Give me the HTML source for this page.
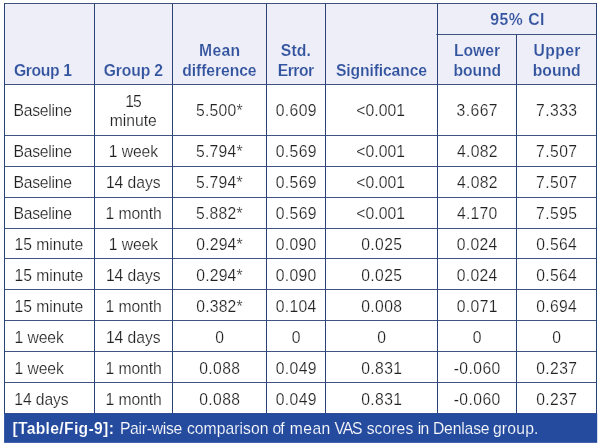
<!DOCTYPE html>
<html lang="en"><head><meta charset="utf-8"><title>Table/Fig-9</title>
<style>
html,body{margin:0;padding:0;background:#fff;}
body{width:601px;height:445px;position:relative;overflow:hidden;font-family:"Liberation Sans",Arial,Helvetica,sans-serif;}
svg{position:absolute;left:0;top:0;}
.t{position:absolute;white-space:pre;line-height:30px;height:30px;font-size:15.7px;color:#222;-webkit-text-stroke:0.2px #fff;}
.h{font-weight:bold;font-size:15.7px;color:#32539e;-webkit-text-stroke:0.15px #eeeef8;}
.ct{color:#fff;font-size:15.7px;-webkit-text-stroke:0.15px #254b9f;}
.b{font-weight:bold;}
</style></head><body>

<svg width="601" height="445" viewBox="0 0 601 445">
<rect x="4.5" y="3.5" width="592" height="81" fill="#eeeef8"/>
<g fill="#2b4275">
<rect x="4" y="3" width="1" height="411"/>
<rect x="94" y="3" width="1" height="411"/>
<rect x="172" y="3" width="1" height="411"/>
<rect x="266" y="3" width="1" height="411"/>
<rect x="325" y="3" width="1" height="411"/>
<rect x="437" y="3" width="1" height="411"/>
<rect x="516" y="34.5" width="1" height="379.5"/>
<rect x="596" y="3" width="1" height="411"/>
<g opacity="0.9">
<rect x="4" y="3" width="593" height="1"/>
<rect x="4" y="84" width="593" height="1"/>
<rect x="4" y="135" width="593" height="1"/>
<rect x="4" y="166" width="593" height="1"/>
<rect x="4" y="197" width="593" height="1"/>
<rect x="4" y="228" width="593" height="1"/>
<rect x="4" y="258" width="593" height="1"/>
<rect x="4" y="289" width="593" height="1"/>
<rect x="4" y="320" width="593" height="1"/>
<rect x="4" y="351" width="593" height="1"/>
<rect x="4" y="382" width="593" height="1"/>
<rect x="4" y="413" width="593" height="1"/>
<rect x="436.3" y="34" width="160.7" height="1"/>
</g>
</g>
<rect x="4.1" y="413.4" width="593.1" height="29.45" fill="#254b9f"/>
</svg>
<div class="t h" style="left:14.05px;top:56px;letter-spacing:-0.38px">Group 1</div>
<div class="t h" style="left:103.75px;top:56px;letter-spacing:-0.14px">Group 2</div>
<div class="t h" style="left:199.00px;top:36px;letter-spacing:0.33px">Mean</div>
<div class="t h" style="left:182.15px;top:56px;letter-spacing:-0.06px">difference</div>
<div class="t h" style="left:280.80px;top:36px;letter-spacing:0.17px">Std.</div>
<div class="t h" style="left:277.70px;top:56px;letter-spacing:-0.48px">Error</div>
<div class="t h" style="left:335.90px;top:56px;letter-spacing:-0.12px">Significance</div>
<div class="t h" style="left:453.90px;top:36px;letter-spacing:0.02px">Lower</div>
<div class="t h" style="left:453.60px;top:56px;letter-spacing:-0.09px">bound</div>
<div class="t h" style="left:533.50px;top:36px;letter-spacing:0.38px">Upper</div>
<div class="t h" style="left:532.80px;top:56px;letter-spacing:-0.01px">bound</div>
<div class="t h" style="left:490.20px;top:5px;letter-spacing:0.57px">95% CI</div>
<div class="t" style="left:13.55px;top:96px;letter-spacing:-0.25px">Baseline</div>
<div class="t" style="left:125.35px;top:87px;letter-spacing:-1.10px">15</div>
<div class="t" style="left:109.80px;top:106px;letter-spacing:-0.02px">minute</div>
<div class="t" style="left:196.05px;top:96px;letter-spacing:0.23px">5.500*</div>
<div class="t" style="left:275.75px;top:96px;letter-spacing:0.38px">0.609</div>
<div class="t" style="left:356.35px;top:96px;letter-spacing:0.04px">&lt;0.001</div>
<div class="t" style="left:456.50px;top:96px;letter-spacing:0.44px">3.667</div>
<div class="t" style="left:536.00px;top:96px;letter-spacing:0.44px">7.333</div>
<div class="t" style="left:13.55px;top:137px;letter-spacing:-0.25px">Baseline</div>
<div class="t" style="left:108.85px;top:137px;letter-spacing:-0.10px">1 week</div>
<div class="t" style="left:196.05px;top:137px;letter-spacing:0.23px">5.794*</div>
<div class="t" style="left:275.75px;top:137px;letter-spacing:0.38px">0.569</div>
<div class="t" style="left:356.35px;top:137px;letter-spacing:0.04px">&lt;0.001</div>
<div class="t" style="left:457.00px;top:137px;letter-spacing:0.31px">4.082</div>
<div class="t" style="left:536.00px;top:137px;letter-spacing:0.44px">7.507</div>
<div class="t" style="left:13.55px;top:168px;letter-spacing:-0.25px">Baseline</div>
<div class="t" style="left:105.95px;top:168px;letter-spacing:-0.06px">14 days</div>
<div class="t" style="left:196.05px;top:168px;letter-spacing:0.23px">5.794*</div>
<div class="t" style="left:275.75px;top:168px;letter-spacing:0.38px">0.569</div>
<div class="t" style="left:356.35px;top:168px;letter-spacing:0.04px">&lt;0.001</div>
<div class="t" style="left:457.00px;top:168px;letter-spacing:0.31px">4.082</div>
<div class="t" style="left:536.00px;top:168px;letter-spacing:0.44px">7.507</div>
<div class="t" style="left:13.55px;top:199px;letter-spacing:-0.25px">Baseline</div>
<div class="t" style="left:105.45px;top:199px;letter-spacing:-0.05px">1 month</div>
<div class="t" style="left:196.05px;top:199px;letter-spacing:0.23px">5.882*</div>
<div class="t" style="left:275.75px;top:199px;letter-spacing:0.38px">0.569</div>
<div class="t" style="left:356.35px;top:199px;letter-spacing:0.04px">&lt;0.001</div>
<div class="t" style="left:457.00px;top:199px;letter-spacing:0.25px">4.170</div>
<div class="t" style="left:536.00px;top:199px;letter-spacing:0.44px">7.595</div>
<div class="t" style="left:14.45px;top:230px">15 minute</div>
<div class="t" style="left:108.85px;top:230px;letter-spacing:-0.10px">1 week</div>
<div class="t" style="left:196.30px;top:230px;letter-spacing:0.18px">0.294*</div>
<div class="t" style="left:275.75px;top:230px;letter-spacing:0.31px">0.090</div>
<div class="t" style="left:361.25px;top:230px;letter-spacing:0.38px">0.025</div>
<div class="t" style="left:456.75px;top:230px;letter-spacing:0.31px">0.024</div>
<div class="t" style="left:536.25px;top:230px;letter-spacing:0.31px">0.564</div>
<div class="t" style="left:14.45px;top:261px">15 minute</div>
<div class="t" style="left:105.95px;top:261px;letter-spacing:-0.06px">14 days</div>
<div class="t" style="left:196.30px;top:261px;letter-spacing:0.18px">0.294*</div>
<div class="t" style="left:275.75px;top:261px;letter-spacing:0.31px">0.090</div>
<div class="t" style="left:361.25px;top:261px;letter-spacing:0.38px">0.025</div>
<div class="t" style="left:456.75px;top:261px;letter-spacing:0.31px">0.024</div>
<div class="t" style="left:536.25px;top:261px;letter-spacing:0.31px">0.564</div>
<div class="t" style="left:14.45px;top:292px">15 minute</div>
<div class="t" style="left:105.45px;top:292px;letter-spacing:-0.05px">1 month</div>
<div class="t" style="left:196.30px;top:292px;letter-spacing:0.18px">0.382*</div>
<div class="t" style="left:275.75px;top:292px;letter-spacing:0.31px">0.104</div>
<div class="t" style="left:361.25px;top:292px;letter-spacing:0.38px">0.008</div>
<div class="t" style="left:456.75px;top:292px;letter-spacing:0.38px">0.071</div>
<div class="t" style="left:536.25px;top:292px;letter-spacing:0.31px">0.694</div>
<div class="t" style="left:14.55px;top:323px;letter-spacing:-0.10px">1 week</div>
<div class="t" style="left:105.95px;top:323px;letter-spacing:-0.06px">14 days</div>
<div class="t" style="left:215.25px;top:323px">0</div>
<div class="t" style="left:291.75px;top:323px">0</div>
<div class="t" style="left:377.25px;top:323px">0</div>
<div class="t" style="left:472.75px;top:323px">0</div>
<div class="t" style="left:552.25px;top:323px">0</div>
<div class="t" style="left:14.55px;top:354px;letter-spacing:-0.10px">1 week</div>
<div class="t" style="left:105.45px;top:354px;letter-spacing:-0.05px">1 month</div>
<div class="t" style="left:199.25px;top:354px;letter-spacing:0.38px">0.088</div>
<div class="t" style="left:275.75px;top:354px;letter-spacing:0.38px">0.049</div>
<div class="t" style="left:361.25px;top:354px;letter-spacing:0.38px">0.831</div>
<div class="t" style="left:453.75px;top:354px;letter-spacing:0.40px">-0.060</div>
<div class="t" style="left:536.25px;top:354px;letter-spacing:0.38px">0.237</div>
<div class="t" style="left:14.25px;top:385px;letter-spacing:-0.09px">14 days</div>
<div class="t" style="left:105.45px;top:385px;letter-spacing:-0.05px">1 month</div>
<div class="t" style="left:199.25px;top:385px;letter-spacing:0.38px">0.088</div>
<div class="t" style="left:275.75px;top:385px;letter-spacing:0.38px">0.049</div>
<div class="t" style="left:361.25px;top:385px;letter-spacing:0.38px">0.831</div>
<div class="t" style="left:453.75px;top:385px;letter-spacing:0.40px">-0.060</div>
<div class="t" style="left:536.25px;top:385px;letter-spacing:0.38px">0.237</div>
<div class="t ct b" style="left:12.40px;top:414px;letter-spacing:0.32px">[Table/Fig-9]:</div>
<div class="t ct" style="left:119.95px;top:414px;letter-spacing:-0.28px">Pair-wise</div>
<div class="t ct" style="left:186.95px;top:414px;letter-spacing:0.04px">comparison</div>
<div class="t ct" style="left:272.45px;top:414px;letter-spacing:-0.90px">of</div>
<div class="t ct" style="left:289.70px;top:414px;letter-spacing:0.45px">mean</div>
<div class="t ct" style="left:334.45px;top:414px;letter-spacing:-1.07px">VAS</div>
<div class="t ct" style="left:366.70px;top:414px;letter-spacing:0.07px">scores</div>
<div class="t ct" style="left:417.70px;top:414px;letter-spacing:-0.65px">in</div>
<div class="t ct" style="left:432.95px;top:414px;letter-spacing:-0.15px">Denlase</div>
<div class="t ct" style="left:492.95px;top:414px;letter-spacing:0.21px">group.</div>
</body></html>
